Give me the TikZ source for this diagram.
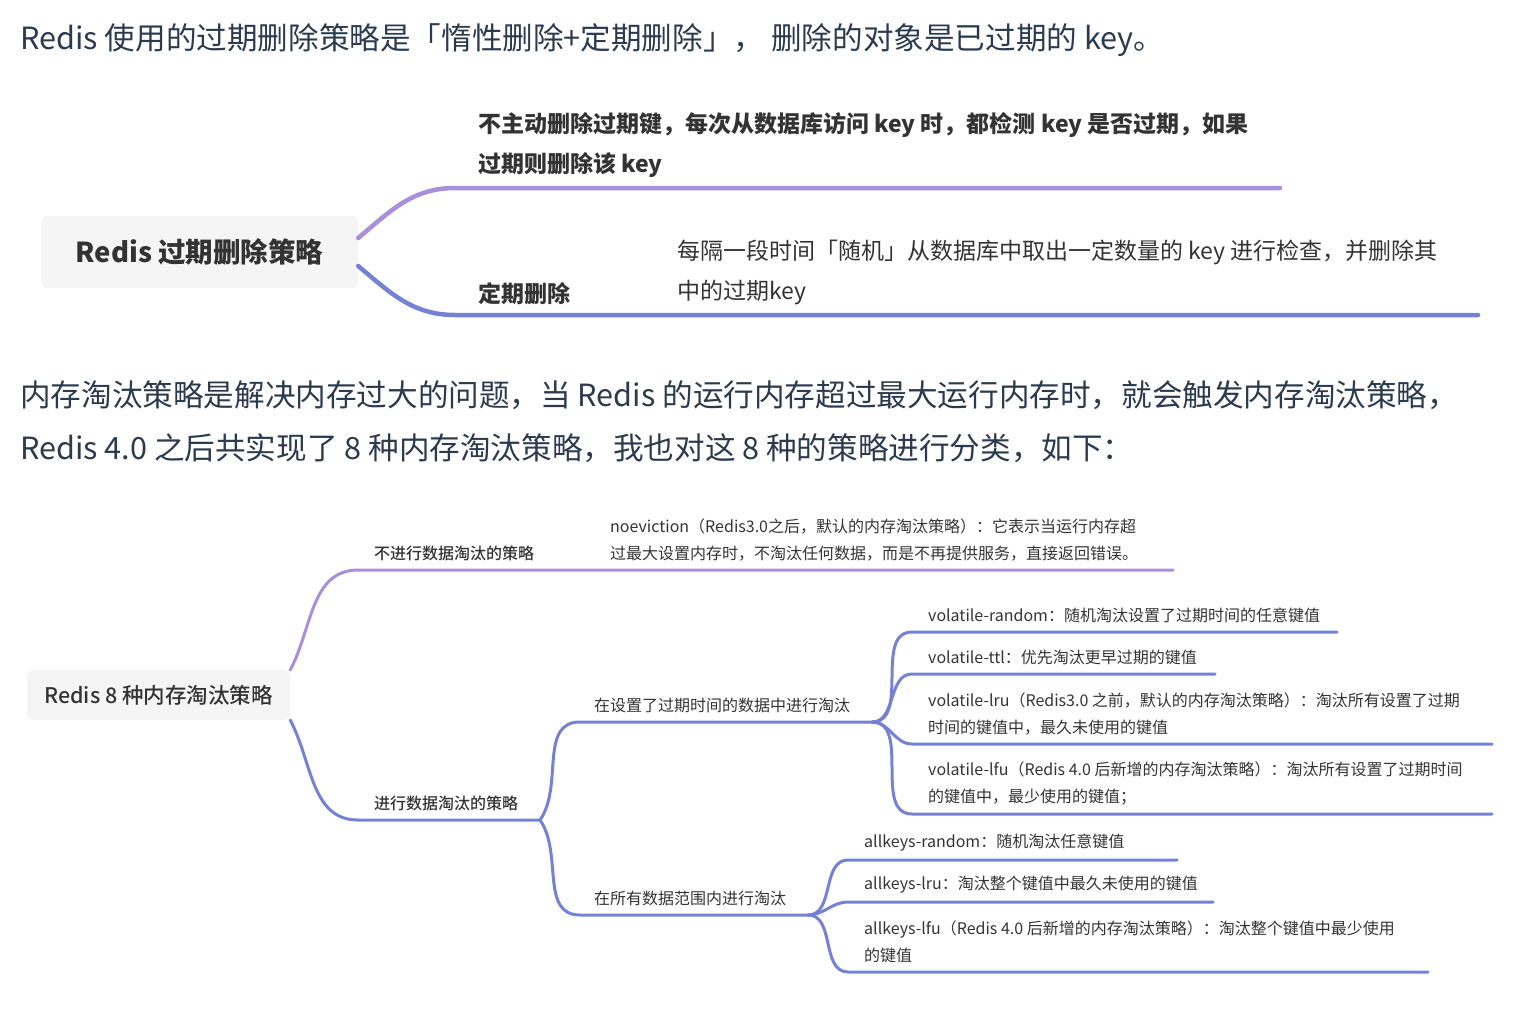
\documentclass[tikz,border=0pt]{standalone}
\usepackage{fontspec}
\setmainfont{Noto Sans CJK SC}
\newfontfamily\medfont{Noto Sans CJK SC Medium}
\usepackage{xcolor}
\usepackage{tikz}
\usetikzlibrary{positioning,calc}
\definecolor{Ink}{HTML}{333333}
\definecolor{Prose}{HTML}{2C3A4E}
\definecolor{Box}{HTML}{F5F5F5}
\definecolor{Lilac}{HTML}{A78FDC}
\definecolor{Indigo}{HTML}{7582D3}

\begin{document}
\begin{tikzpicture}[x=1pt,y=-1pt,node distance=10pt and 20pt]
\tikzset{prose/.style={anchor=west,inner sep=0pt,align=left,text=Prose,font=\fontsize{30.6}{53}\selectfont},
 topic/.style={rounded corners=6pt,fill=Box,text=Ink,inner sep=0pt},
 bigleaf/.style={inner sep=0pt,align=left,text=Ink,font=\fontsize{23}{40}\selectfont},
 bigbold/.style={inner sep=0pt,align=left,text=Ink,font=\bfseries\fontsize{23}{40}\selectfont},
 leaf/.style={inner sep=0pt,align=left,text=Ink,font=\fontsize{16}{27}\selectfont},
 boldleaf/.style={inner sep=0pt,align=left,text=Ink,font=\medfont\fontsize{16}{27}\selectfont},
 thickline/.style={line width=4.5pt,line cap=round},
 thinline/.style={line width=3pt,line cap=round}}
\useasboundingbox (0,0) rectangle (1530,1012);
\node[prose] (head) at (20,40) {Redis 使用的过期删除策略是「惰性删除+定期删除」， 删除的对象是已过期的 key。};
\node[prose] (intro) at (20,421.5) {内存淘汰策略是解决内存过大的问题，当 Redis 的运行内存超过最大运行内存时，就会触发内存淘汰策略，\\Redis 4.0 之后共实现了 8 种内存淘汰策略，我也对这 8 种的策略进行分类，如下：};
\node[topic,minimum width=317pt,minimum height=72pt,font=\bfseries\fontsize{27.5}{32}\selectfont] (expRoot) at (199.5,252) {Redis 过期删除策略};
\coordinate (lazyA) at (455,188);
\coordinate (lazyB) at (1280,188);
\coordinate (cronA) at (455,315);
\coordinate (cronB) at (1478,315);
\node[bigbold,above right=10pt and 23pt of lazyA] (lazyTxt) {不主动删除过期键，每次从数据库访问 key 时，都检测 key 是否过期，如果\\过期则删除该 key};
\node[bigbold,above right=10pt and 23pt of cronA] (cronLbl) {定期删除};
\node[bigleaf,above right=10pt and 222pt of cronA] (cronTxt) {每隔一段时间「随机」从数据库中取出一定数量的 key 进行检查，并删除其\\中的过期key};
\draw[thickline,Lilac] ([yshift=14pt]expRoot.east) to[out=40,in=180] (lazyA) -- (lazyB);
\draw[thickline,Indigo] ([yshift=-14pt]expRoot.east) to[out=-40,in=180] (cronA) -- (cronB);
\node[topic,minimum width=263pt,minimum height=50pt,font=\medfont\fontsize{21.5}{26}\selectfont] (memRoot) at (158.5,695) {Redis 8 种内存淘汰策略};
\coordinate (noA) at (358,570);
\coordinate (noB) at (1173,570);
\coordinate (doA) at (358,820);
\coordinate (doJ) at (540,820);
\coordinate (ttlA) at (580,722);
\coordinate (ttlJ) at (872,722);
\coordinate (allA) at (580,915);
\coordinate (allJ) at (808,915);
\node[boldleaf,above right=9pt and 16pt of noA] (noLbl) {不进行数据淘汰的策略};
\node[leaf,above right=9pt and 252pt of noA] (noTxt) {noeviction（Redis3.0之后，默认的内存淘汰策略）：它表示当运行内存超\\过最大设置内存时，不淘汰任何数据，而是不再提供服务，直接返回错误。};
\node[boldleaf,above right=9pt and 16pt of doA] (doLbl) {进行数据淘汰的策略};
\node[leaf,above right=9pt and 14pt of ttlA] (ttlLbl) {在设置了过期时间的数据中进行淘汰};
\node[leaf,above right=9pt and 14pt of allA] (allLbl) {在所有数据范围内进行淘汰};
\draw[thinline,Lilac] ([yshift=25pt]memRoot.east) to[out=62,in=180] (noA) -- (noB);
\draw[thinline,Indigo] ([yshift=-25pt]memRoot.east) to[out=-62,in=180] (doA) -- (doJ);
\draw[thinline,Indigo] (doJ) to[out=55,in=180] (ttlA) -- (ttlJ);
\draw[thinline,Indigo] (doJ) to[out=-55,in=180] (allA) -- (allJ);
\coordinate (vRandA) at (912,632);
\coordinate (vRandB) at (1337,632);
\coordinate (vTtlA) at (912,674);
\coordinate (vTtlB) at (1215,674);
\coordinate (vLruA) at (912,744);
\coordinate (vLruB) at (1492,744);
\coordinate (vLfuA) at (912,814);
\coordinate (vLfuB) at (1492,814);
\coordinate (aRandA) at (848,860);
\coordinate (aRandB) at (1177,860);
\coordinate (aLruA) at (848,902);
\coordinate (aLruB) at (1213,902);
\coordinate (aLfuA) at (848,972);
\coordinate (aLfuB) at (1428,972);
\node[leaf,above right=9pt and 16pt of vRandA] (vRand) {volatile-random：随机淘汰设置了过期时间的任意键值};
\node[leaf,above right=9pt and 16pt of vTtlA] (vTtl) {volatile-ttl：优先淘汰更早过期的键值};
\node[leaf,above right=9pt and 16pt of vLruA] (vLru) {volatile-lru（Redis3.0 之前，默认的内存淘汰策略）：淘汰所有设置了过期\\时间的键值中，最久未使用的键值};
\node[leaf,above right=9pt and 16pt of vLfuA] (vLfu) {volatile-lfu（Redis 4.0 后新增的内存淘汰策略）：淘汰所有设置了过期时间\\的键值中，最少使用的键值；};
\node[leaf,above right=9pt and 16pt of aRandA] (aRand) {allkeys-random：随机淘汰任意键值};
\node[leaf,above right=9pt and 16pt of aLruA] (aLru) {allkeys-lru：淘汰整个键值中最久未使用的键值};
\node[leaf,above right=9pt and 16pt of aLfuA] (aLfu) {allkeys-lfu（Redis 4.0 后新增的内存淘汰策略）：淘汰整个键值中最少使用\\的键值};
\foreach \v in {vRand,vTtl,vLru,vLfu}
  \draw[thinline,Indigo] (ttlJ) to[out=0,in=180] (\v A) -- (\v B);
\foreach \a in {aRand,aLru,aLfu}
  \draw[thinline,Indigo] (allJ) to[out=0,in=180] (\a A) -- (\a B);
\end{tikzpicture}
\end{document}
